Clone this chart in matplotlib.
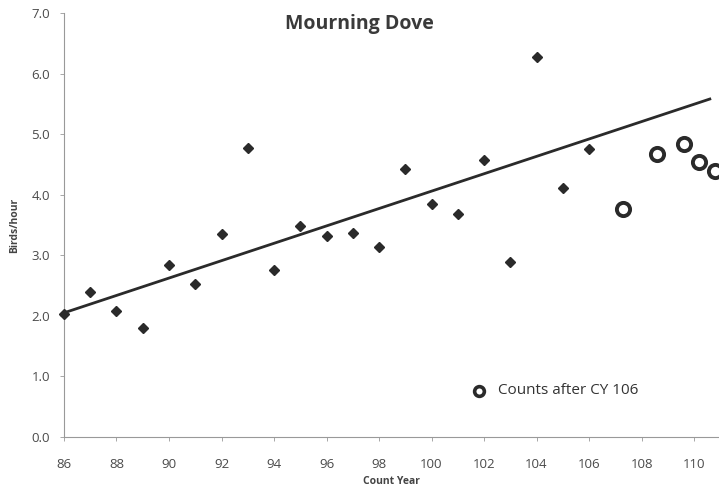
import numpy as np
import matplotlib.pyplot as plt

# Mourning Dove birds/hour by count year
years = [86, 87, 88, 89, 90, 91, 92, 93, 94, 95, 96,
         97, 98, 99, 100, 101, 102, 103, 104, 105, 106]
birds = [2.03, 2.39, 2.08, 1.80, 2.84, 2.52, 3.35, 4.77, 2.76, 3.48, 3.32,
         3.37, 3.14, 4.42, 3.84, 3.68, 4.57, 2.89, 6.27, 4.11, 4.75]

# counts after CY 106 (open circles)
late_years = [107.3, 108.6, 109.6, 110.2, 110.8]
late_birds = [3.76, 4.67, 4.84, 4.54, 4.39]

# trend line end points
trend_x = [86, 110.6]
trend_y = [2.05, 5.58]

plt.rcParams['font.family'] = ['Open Sans', 'DejaVu Sans']

fig = plt.figure(figsize=(7.19, 4.93), dpi=100)
ax = fig.add_axes([0.089, 0.1136, 0.911, 0.86])

ink = '#2a2a2a'
grey = '#4a4a4a'

ax.plot(trend_x, trend_y, color=ink, lw=2.0, zorder=2)

ax.plot(years, birds, 'D', color=ink, ms=5.5, zorder=3, clip_on=False)
ax.plot(late_years, late_birds, 'o', mfc='white', mec=ink, ms=9.5, mew=2.8,
        zorder=3, clip_on=False)

ax.set_xlim(86, 110.95)
ax.set_ylim(0, 7)
ax.set_xticks(range(86, 111, 2))
ax.set_yticks(np.arange(0, 7.1, 1))
ax.set_yticklabels(['%.1f' % v for v in np.arange(0, 7.1, 1)])

for side in ['top', 'right']:
    ax.spines[side].set_visible(False)
for side in ['left', 'bottom']:
    ax.spines[side].set_color('#999999')
    ax.spines[side].set_linewidth(0.8)
ax.tick_params(colors='#999999', labelcolor=grey, labelsize=9.5, length=3,
               width=0.6)
ax.tick_params(axis='x', pad=12)
ax.tick_params(axis='y', pad=7)

ax.set_xlabel('Count Year', fontsize=7.5, fontweight='bold', color='#444444',
              labelpad=4)
ax.set_ylabel('Birds/hour', fontsize=7.5, fontweight='bold', color='#444444',
              labelpad=8)

fig.text(0.5, 0.952, 'Mourning Dove', ha='center', va='center', fontsize=14,
         fontweight='bold', color='#3a3a3a')

# legend entry drawn by hand, as in the original
fig.text(0.692, 0.207, 'Counts after CY 106', ha='left', va='center',
         fontsize=11, color='#333333')
fig.lines.append(plt.Line2D([0.666], [0.206], transform=fig.transFigure,
                            marker='o', mfc='white', mec=ink, ms=7, mew=2.6))

fig.savefig('out.png', dpi=100)
